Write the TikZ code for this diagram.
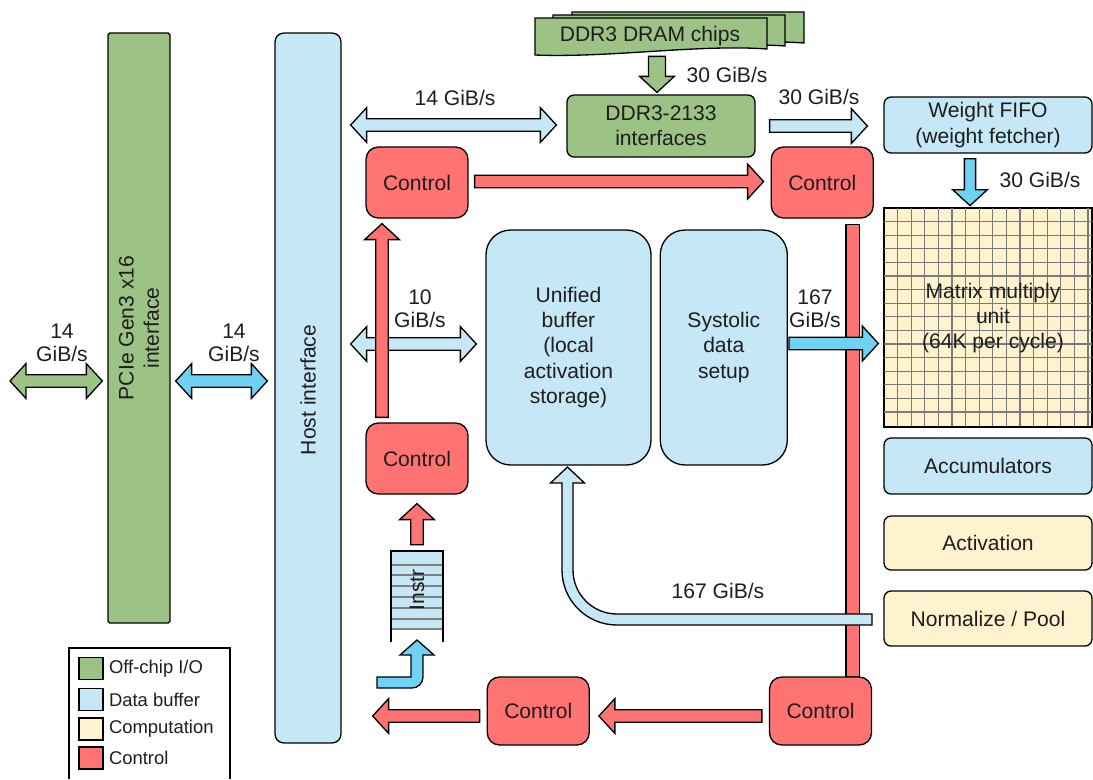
\documentclass[tikz,border=0pt]{standalone}
\usepackage{fontspec}
\setmainfont{Liberation Sans}
\usetikzlibrary{calc, positioning}
\definecolor{OffChip}{HTML}{9CC385}
\definecolor{DataBuf}{HTML}{C5E7F6}
\definecolor{DataFlow}{HTML}{70D2F2}
\definecolor{Compute}{HTML}{FFF2CE}
\definecolor{Ctrl}{HTML}{FF7373}
\definecolor{Ink}{HTML}{1E1E1E}
\definecolor{GridGray}{HTML}{7A7A7A}

% block arrows: [shaft half width]{style}{from}{to}
\newcommand{\fatarrow}[4][3.6pt]{%
  \coordinate (fa-a) at #3; \coordinate (fa-b) at #4;
  \coordinate (fa-c) at ($(fa-b)!9.1pt!(fa-a)$);
  \draw[#2] ($(fa-a)!#1!90:(fa-b)$) -- ($(fa-c)!#1!90:(fa-b)$) -- ($(fa-c)!9.9pt!90:(fa-b)$)
    -- (fa-b) -- ($(fa-c)!9.9pt!-90:(fa-b)$) -- ($(fa-c)!#1!-90:(fa-b)$) -- ($(fa-a)!#1!-90:(fa-b)$) -- cycle;}
\newcommand{\fatdarrow}[4][3.6pt]{%
  \coordinate (fa-a) at #3; \coordinate (fa-b) at #4;
  \coordinate (fa-c) at ($(fa-b)!9.1pt!(fa-a)$);
  \coordinate (fa-d) at ($(fa-a)!9.1pt!(fa-b)$);
  \draw[#2] (fa-a) -- ($(fa-d)!9.9pt!90:(fa-b)$) -- ($(fa-d)!#1!90:(fa-b)$) -- ($(fa-c)!#1!90:(fa-b)$)
    -- ($(fa-c)!9.9pt!90:(fa-b)$) -- (fa-b) -- ($(fa-c)!9.9pt!-90:(fa-b)$) -- ($(fa-c)!#1!-90:(fa-b)$)
    -- ($(fa-d)!#1!-90:(fa-b)$) -- ($(fa-d)!9.9pt!-90:(fa-b)$) -- cycle;}

\tikzset{
  box/.style={rectangle, draw=black, line width=0.75pt, text=Ink, align=center, inner sep=0pt},
  offchip/.style={box, fill=OffChip, rounded corners=4pt},
  databuf/.style={box, fill=DataBuf, rounded corners=4pt},
  compute/.style={box, fill=Compute, rounded corners=4pt},
  ctrlbox/.style={box, fill=Ctrl, rounded corners=7pt, minimum width=2.04cm, minimum height=1.42cm},
  unitbox/.style={minimum width=4.16cm},
  lbl/.style={text=Ink, align=center, inner sep=0pt},
  lbltwo/.style={lbl, font=\fontsize{12}{13}\selectfont},
  arr/.style={draw=black, line width=0.75pt, line join=miter},
  ioarr/.style={arr, fill=OffChip},
  bufarr/.style={arr, fill=DataBuf},
  flowarr/.style={arr, fill=DataFlow},
  ctrlarr/.style={arr, fill=Ctrl},
  gridline/.style={draw=GridGray, line width=0.6pt},
  legsq/.style={rectangle, draw=black, line width=0.75pt, minimum width=0.48cm, minimum height=0.44cm, inner sep=0pt},
  legtxt/.style={font=\fontsize{10.5}{12}\selectfont, text=Ink, inner sep=0pt},
}

\begin{document}
\begin{tikzpicture}[x=0.02cm, y=-0.02cm, font=\fontsize{12}{14.3}\selectfont]
  \useasboundingbox (0,0) rectangle (1093,779);

  % off-chip side
  \node (pcie) [offchip, rounded corners=1pt, minimum width=1.24cm, minimum height=11.8cm] at (139,328) {};
  \node (pcietxt) [lbl, rotate=90] at (pcie.center) {PCIe Gen3 x16\\interface};
  \node (host) [databuf, rounded corners=5pt, minimum width=1.32cm, minimum height=14.2cm] at (308,388) {};
  \node (hosttxt) [lbl, rotate=90] at (308,390) {Host interface};

  % DRAM chips
  \foreach \dx/\dy in {37/-6, 18/-3, 0/0}
    \draw[ioarr] ({535+\dx},{18+\dy}) -- ({767+\dx},{18+\dy}) -- ({767+\dx},{49+\dy})
      .. controls ({700+\dx},{44+\dy}) and ({610+\dx},{58+\dy}) .. ({535+\dx},{55+\dy}) -- cycle;
  \node (chips) [lbl] at (650,36) {DDR3 DRAM chips};
  \node (ddrif) [offchip, minimum width=3.76cm, minimum height=1.24cm] at (661,126) {DDR3-2133\\interfaces};

  % right column
  \node (wfifo) [databuf, unitbox, minimum height=1.12cm] at (988,125) {Weight FIFO\\(weight fetcher)};
  \node (mmu) [compute, unitbox, rounded corners=0pt, minimum height=4.36cm, below=1.08cm of wfifo] {};
  \foreach \i in {1,...,15}
    \draw[gridline] ({884+13.6*\i},208) -- ({884+13.6*\i},426);
  \foreach \j in {1,...,15}
    \draw[gridline] (884,{208+13.6*\j}) -- (1092,{208+13.6*\j});
  \draw[line width=0.75pt] (mmu.north west) rectangle (mmu.south east);
  \node (mmutxt) [lbl] at (993,318) {Matrix multiply\\unit\\(64K per cycle)};
  \node (acc)  [databuf, unitbox, minimum height=1.12cm] at (988,466) {Accumulators};
  \node (act)  [compute, unitbox, minimum height=1.08cm] at (988,543) {Activation};
  \node (norm) [compute, unitbox, minimum height=1.1cm]  at (988,618.5) {Normalize / Pool};

  % buffers
  \node (ubuf) [databuf, rounded corners=14pt, minimum width=3.3cm, minimum height=4.7cm] at (568.5,347.5)
    {Unified\\buffer\\(local\\activation\\storage)};
  \node (sds) [databuf, rounded corners=14pt, minimum width=2.54cm, minimum height=4.7cm, right=0.16cm of ubuf]
    {Systolic\\data\\setup};

  % control units
  \node (ctla) [ctrlbox] at (417,182.5) {Control};
  \node (ctlb) [ctrlbox, right=6.04cm of ctla] {Control};
  \node (ctlc) [ctrlbox] at (417,458.5) {Control};
  \node (ctle) [ctrlbox, minimum height=1.36cm] at (820.5,711) {Control};
  \node (ctld) [ctrlbox, minimum height=1.36cm, left=3.58cm of ctle] {Control};

  % instruction queue
  \fill[DataBuf] (391,551) rectangle (443,629);
  \foreach \y in {565,575,586,597,608,619,629}
    \draw[gridline, draw=gray] (391,\y) -- (443,\y);
  \draw[line width=0.75pt] (391,642) -- (391,551) -- (443,551) -- (443,642);
  \node (instr) [lbl, rotate=90] at (417,590) {Instr};
  \coordinate (iqtop) at ($(ctlc.south)+(0,57)$);

  % red control bar
  \draw[ctrlarr] ($(ctle.north)+(25.5,0)$) rectangle ($(ctlb.south)+(37.5,6)$);

  % data paths
  \coordinate (ext) at (10,381);
  \fatdarrow{ioarr}{(ext)}{($(pcie.west |- ext)+(-5,0)$)};
  \fatdarrow{flowarr}{($(pcie.east |- ext)+(5,0)$)}{($(host.west |- ext)+(-7,0)$)};
  \fatdarrow{bufarr}{($(host.east |- ddrif.west)+(9,-1)$)}{($(ddrif.west)+(-10,-1)$)};
  \fatarrow{bufarr}{($(ddrif.east)+(14,0)$)}{($(wfifo.west |- ddrif.east)+(-16,0)$)};
  \fatarrow[4.8pt]{ioarr}{($(ddrif.north)+(-4,-38)$)}{($(ddrif.north)+(-4,-2)$)};
  \fatarrow[3.2pt]{flowarr}{($(wfifo.south)+(-18,5)$)}{($(mmu.north)+(-18,-2)$)};
  \fatdarrow{bufarr}{($(host.east |- ubuf.west)+(9,-3.5)$)}{($(ubuf.west)+(-9,-3.5)$)};
  \fatarrow{flowarr}{($(sds.east)+(1,-4)$)}{($(mmu.west |- sds.east)+(-5,-4)$)};

  % return path to the unified buffer
  \draw[bufarr] (872,614) -- (617,614) .. controls (592.7,614) and (573,594.3) .. (573,570) -- (573,483)
    -- (584.5,483) -- (567.5,467) -- (550.5,483) -- (562,483) -- (562,570)
    .. controls (562,600.4) and (586.6,625) .. (617,625) -- (872,625) -- cycle;

  % instructions in
  \draw[flowarr] (377,677) -- (411,677) -- (411,655) -- (400,655) -- (417,640) -- (434,655) -- (423,655)
    -- (423,677) .. controls (423,683.1) and (418.1,688) .. (412,688) -- (377,688) -- cycle;

  % control paths
  \fatarrow{ctrlarr}{($(ctla.east)+(6,-1)$)}{($(ctlb.west)+(-7,-1)$)};
  \fatarrow{ctrlarr}{($(ctlc.north)+(-35,-5)$)}{($(ctla.south)+(-35,5)$)};
  \fatarrow{ctrlarr}{($(iqtop)+(0,-7)$)}{($(ctlc.south)+(0,9)$)};
  \fatarrow{ctrlarr}{($(ctle.west)+(-7,5)$)}{($(ctld.east)+(9,5)$)};
  \coordinate (ctlout) at ($(host.east |- ctld.west)+(31,5)$);
  \fatarrow{ctrlarr}{($(ctld.west)+(-7,5)$)}{(ctlout)};

  % bandwidth labels
  \node (bwchip) [lbl] at (727,75) {30 GiB/s};
  \node (bwhost) [lbl] at (455,98) {14 GiB/s};
  \node (bwwt)   [lbl] at (819,97) {30 GiB/s};
  \node (bwfifo) [lbl] at (1040,180) {30 GiB/s};
  \node (bwub)   [lbltwo] at (420,309) {10\\GiB/s};
  \node (bwsys)  [lbltwo] at (815,309) {167\\GiB/s};
  \node (bwext)  [lbltwo] at (62,343) {14\\GiB/s};
  \node (bwpcie) [lbltwo] at (234,343) {14\\GiB/s};
  \node (bwret)  [lbl] at (718,591) {167 GiB/s};

  % legend
  \draw[line width=0.75pt] (69,779) -- (69,648) -- (230,648) -- (230,779);
  \node (legio)   [legsq, fill=OffChip] at (91,668.5) {};
  \node (legbuf)  [legsq, fill=DataBuf] at (91,699.5) {};
  \node (legcomp) [legsq, fill=Compute] at (91,729) {};
  \node (legctl)  [legsq, fill=Ctrl]    at (91,758) {};
  \node [legtxt, right=0.1cm of legio]   {Off-chip I/O};
  \node [legtxt, right=0.1cm of legbuf]  {Data buffer};
  \node [legtxt, right=0.1cm of legcomp] {Computation};
  \node [legtxt, right=0.1cm of legctl]  {Control};
\end{tikzpicture}
\end{document}
